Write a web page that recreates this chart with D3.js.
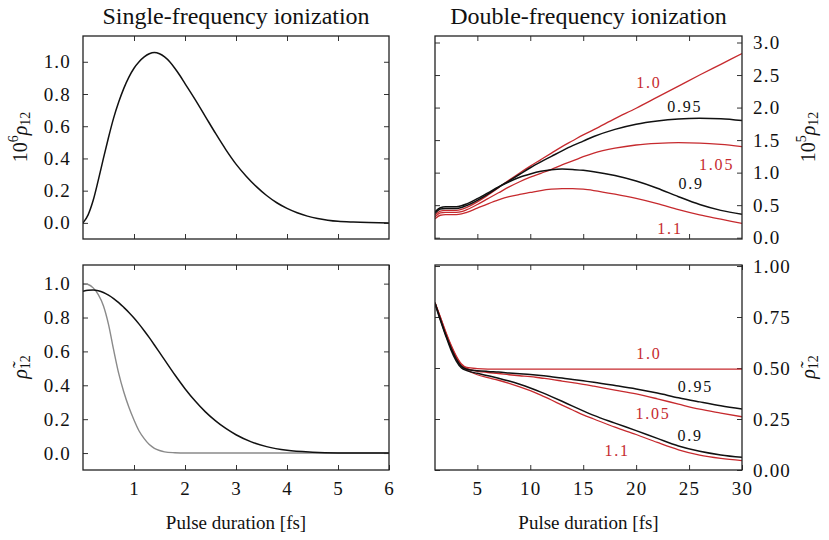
<!DOCTYPE html>
<html><head><meta charset="utf-8">
<script src="https://cdn.jsdelivr.net/npm/d3@7"></script>
<style>
body{margin:0;background:#fff}
svg{display:block}
svg text{font-family:"Liberation Serif","DejaVu Serif","Times New Roman",serif !important;fill:#111}
</style>
</head><body>
<svg id="c" width="829" height="540"></svg>
<script>
// ---------------- data ----------------
// Single-frequency: 10^6 rho12 vs pulse duration
const singleT   = [0,0.1,0.2,0.3,0.4,0.5,0.6,0.7,0.8,0.9,1.0,1.1,1.2,1.3,1.4,1.5,1.6,1.7,1.8,1.9,2.0,2.2,2.4,2.6,2.8,3.0,3.2,3.4,3.6,3.8,4.0,4.2,4.4,4.6,4.8,5.0,5.3,5.6,6.0];
const singleRho = [0,0.05,0.14,0.265,0.4,0.53,0.65,0.75,0.835,0.905,0.96,1.0,1.03,1.05,1.058,1.05,1.03,1.0,0.96,0.915,0.865,0.765,0.66,0.555,0.455,0.365,0.29,0.225,0.17,0.125,0.09,0.063,0.042,0.027,0.017,0.01,0.005,0.002,0.0];

// Single-frequency: normalized rho12 (black and gray curves)
const ratioT     = [0,0.1,0.2,0.3,0.4,0.5,0.6,0.7,0.8,0.9,1.0,1.1,1.2,1.3,1.4,1.5,1.6,1.8,2.0,2.2,2.4,2.6,2.8,3.0,3.3,3.6,4.0,4.5,5.0,6.0];
const ratioBlack = [0.955,0.961,0.962,0.958,0.948,0.932,0.912,0.888,0.86,0.83,0.797,0.761,0.722,0.681,0.638,0.594,0.55,0.462,0.38,0.307,0.243,0.19,0.145,0.108,0.066,0.038,0.016,0.005,0.001,0.0];
const ratioGray  = [1.0,0.995,0.975,0.935,0.87,0.76,0.61,0.47,0.36,0.27,0.195,0.13,0.085,0.05,0.028,0.015,0.007,0.002,0.0,0,0,0,0,0,0,0,0,0,0,0];

// Double-frequency: pulse durations and the five frequency ratios
const doubleT = [1,1.5,2,2.5,3,3.5,4,5,6,7,8,9,10,11,12,13,14,15,16,18,20,22,24,26,28,30];
const freqNames = ["0.9","0.95","1.0","1.05","1.1"];
// 10^5 rho12
const rho_090 = [0.40,0.46,0.475,0.475,0.475,0.49,0.52,0.60,0.69,0.78,0.86,0.93,0.98,1.02,1.045,1.055,1.05,1.035,1.015,0.955,0.87,0.76,0.63,0.51,0.42,0.36];
const rho_095 = [0.375,0.44,0.45,0.45,0.45,0.465,0.495,0.575,0.67,0.775,0.875,0.975,1.075,1.165,1.25,1.335,1.415,1.485,1.555,1.665,1.745,1.795,1.825,1.835,1.83,1.80];
const rho_100 = [0.35,0.41,0.42,0.42,0.42,0.435,0.465,0.55,0.655,0.77,0.885,0.995,1.10,1.20,1.30,1.40,1.49,1.58,1.66,1.83,1.99,2.16,2.33,2.50,2.665,2.83];
const rho_105 = [0.32,0.38,0.39,0.39,0.39,0.40,0.43,0.51,0.60,0.69,0.78,0.86,0.93,0.99,1.05,1.12,1.18,1.245,1.30,1.375,1.425,1.45,1.46,1.455,1.435,1.40];
const rho_110 = [0.29,0.345,0.355,0.355,0.355,0.365,0.39,0.455,0.52,0.58,0.63,0.665,0.695,0.725,0.745,0.755,0.755,0.745,0.725,0.67,0.605,0.525,0.43,0.35,0.285,0.22];
// normalized rho12
const nrm_090 = [0.815,0.735,0.66,0.59,0.535,0.50,0.487,0.474,0.462,0.45,0.436,0.42,0.402,0.382,0.36,0.337,0.313,0.29,0.268,0.23,0.193,0.155,0.118,0.092,0.074,0.062];
const nrm_095 = [0.82,0.74,0.665,0.60,0.545,0.508,0.494,0.487,0.483,0.48,0.476,0.472,0.468,0.463,0.457,0.451,0.444,0.437,0.43,0.414,0.397,0.377,0.354,0.334,0.315,0.299];
const nrm_100 = [0.82,0.75,0.68,0.615,0.56,0.52,0.503,0.497,0.495,0.495,0.495,0.495,0.495,0.495,0.495,0.495,0.495,0.495,0.495,0.495,0.495,0.495,0.495,0.495,0.495,0.495];
const nrm_105 = [0.82,0.75,0.675,0.61,0.555,0.515,0.498,0.484,0.478,0.473,0.467,0.462,0.458,0.451,0.444,0.436,0.428,0.42,0.411,0.392,0.373,0.349,0.323,0.298,0.279,0.261];
const nrm_110 = [0.82,0.745,0.67,0.605,0.55,0.508,0.49,0.467,0.453,0.44,0.425,0.408,0.389,0.367,0.343,0.318,0.294,0.27,0.25,0.21,0.174,0.135,0.099,0.073,0.057,0.046];

// curve label anchors (data coordinates) for each ratio
const topLabelT = [25.2,24.6,21.2,27.6,23.2];
const topLabelV = [0.83,2.01,2.39,1.13,0.14];
const botLabelT = [25.1,25.6,21.2,21.6,18.2];
const botLabelV = [0.169,0.409,0.571,0.279,0.098];

// ticks
const leftXTicks  = [1,2,3,4,5,6];
const rightXTicks = [5,10,15,20,25,30];
const leftYTicks  = [0,0.2,0.4,0.6,0.8,1.0];
const trYTicks    = [0,0.5,1.0,1.5,2.0,2.5,3.0];
const brYTicks    = [0,0.25,0.5,0.75,1.0];

// ---------------- drawing ----------------
const FONT = '"Liberation Serif","DejaVu Serif","Times New Roman",serif';
const svg = d3.select("#c").attr("font-family", FONT);
const RED = "#c62a2e", BLACK = "#111", GRAY = "#8a8a8a";
const seriesColor = [BLACK, BLACK, RED, RED, RED];

function makePanel(box, xdom, ydom, xticks, yticks, o) {
  const x = d3.scaleLinear().domain(xdom).range([box.x0, box.x1]);
  const y = d3.scaleLinear().domain(ydom).range([box.y1, box.y0]);
  const g = svg.append("g");
  const tickStyle = sel => {
    sel.attr("font-family", FONT);
    sel.select(".domain").remove();
    sel.selectAll(".tick line").attr("stroke", "#333").attr("stroke-width", 1);
    sel.selectAll(".tick text").attr("font-size", 19).attr("letter-spacing", 1.2).attr("fill", "#111");
  };
  const xb = d3.axisBottom(x).tickValues(xticks).tickSizeInner(-5).tickSizeOuter(0).tickPadding(12)
    .tickFormat(o.xlabels ? d3.format("d") : () => "");
  g.append("g").attr("transform", `translate(0,${box.y1})`).call(xb).call(tickStyle);
  g.append("g").attr("transform", `translate(0,${box.y0})`)
    .call(d3.axisTop(x).tickValues(xticks).tickSizeInner(-5).tickSizeOuter(0).tickFormat(() => "")).call(tickStyle);
  const fmt = o.yfmt;
  g.append("g").attr("transform", `translate(${box.x0},0)`)
    .call(d3.axisLeft(y).tickValues(yticks).tickSizeInner(-5).tickSizeOuter(0).tickPadding(12)
      .tickFormat(o.ySide === "left" ? fmt : () => "")).call(tickStyle);
  g.append("g").attr("transform", `translate(${box.x1},0)`)
    .call(d3.axisRight(y).tickValues(yticks).tickSizeInner(-5).tickSizeOuter(0).tickPadding(11)
      .tickFormat(o.ySide === "right" ? fmt : () => "")).call(tickStyle);
  const id = "clip" + Math.round(box.x0) + "_" + Math.round(box.y0);
  svg.append("clipPath").attr("id", id).append("rect")
    .attr("x", box.x0).attr("y", box.y0).attr("width", box.x1 - box.x0).attr("height", box.y1 - box.y0);
  const plot = g.append("g").attr("clip-path", `url(#${id})`);
  g.append("rect").attr("x", box.x0).attr("y", box.y0).attr("width", box.x1 - box.x0)
    .attr("height", box.y1 - box.y0).attr("fill", "none").attr("stroke", "#222").attr("stroke-width", 1.3);
  return {x, y, g, plot};
}

function drawLine(p, xs, ys, color, w) {
  const line = d3.line().x((d, i) => p.x(xs[i])).y(d => p.y(d)).curve(d3.curveMonotoneX);
  p.plot.append("path").datum(ys).attr("d", line).attr("fill", "none")
    .attr("stroke", color).attr("stroke-width", w).attr("stroke-linejoin", "round");
}

const L = {x0: 83, x1: 389}, R = {x0: 435, x1: 742};
const T = {y0: 36, y1: 239}, B = {y0: 265, y1: 470};

const f1 = d3.format(".1f"), f2 = d3.format(".2f");

// top-left
const tl = makePanel({...L, ...T}, [0, 6], [-0.1, 1.16], leftXTicks.slice(0, 5), leftYTicks, {ySide: "left", yfmt: f1});
drawLine(tl, singleT, singleRho, BLACK, 1.5);

// top-right
const tr = makePanel({...R, ...T}, [1, 30], [-0.02, 3.1], rightXTicks.slice(0, 5), trYTicks, {ySide: "right", yfmt: f1});
const topSeries = [rho_090, rho_095, rho_100, rho_105, rho_110];
[4, 3, 2, 1, 0].forEach(i => drawLine(tr, doubleT, topSeries[i], seriesColor[i], seriesColor[i] === RED ? 1.3 : 1.5));
freqNames.forEach((n, i) => {
  tr.g.append("text").attr("x", tr.x(topLabelT[i])).attr("y", tr.y(topLabelV[i]))
    .attr("text-anchor", "middle").attr("dominant-baseline", "central")
    .attr("font-size", 16).attr("letter-spacing", 1.8).style("fill", seriesColor[i]).text(n);
});

// bottom-left
const bl = makePanel({...L, ...B}, [0, 6], [-0.1, 1.11], leftXTicks, leftYTicks, {ySide: "left", yfmt: f1, xlabels: true});
drawLine(bl, ratioT, ratioGray, GRAY, 1.4);
drawLine(bl, ratioT, ratioBlack, BLACK, 1.5);

// bottom-right
const br = makePanel({...R, ...B}, [1, 30], [0, 1.005], rightXTicks, brYTicks, {ySide: "right", yfmt: f2, xlabels: true});
const botSeries = [nrm_090, nrm_095, nrm_100, nrm_105, nrm_110];
[4, 3, 2, 1, 0].forEach(i => drawLine(br, doubleT, botSeries[i], seriesColor[i], seriesColor[i] === RED ? 1.3 : 1.5));
freqNames.forEach((n, i) => {
  br.g.append("text").attr("x", br.x(botLabelT[i])).attr("y", br.y(botLabelV[i]))
    .attr("text-anchor", "middle").attr("dominant-baseline", "central")
    .attr("font-size", 16).attr("letter-spacing", 1.8).style("fill", seriesColor[i]).text(n);
});

// titles
svg.append("text").attr("x", (L.x0 + L.x1) / 2).attr("y", 24).attr("text-anchor", "middle")
  .attr("font-size", 24).text("Single-frequency ionization");
svg.append("text").attr("x", (R.x0 + R.x1) / 2).attr("y", 24).attr("text-anchor", "middle")
  .attr("font-size", 24).text("Double-frequency ionization");

// x labels
[L, R].forEach(b => svg.append("text").attr("x", (b.x0 + b.x1) / 2).attr("y", 529)
  .attr("text-anchor", "middle").attr("font-size", 19).text("Pulse duration [fs]"));

// y labels
function rhoLabel(cx, cy, power, tilde) {
  const t = svg.append("text").attr("transform", `translate(${cx},${cy}) rotate(-90)`)
    .attr("text-anchor", "middle").attr("dominant-baseline", "central").attr("font-size", 20);
  if (power) {
    t.append("tspan").text("10");
    t.append("tspan").attr("dy", -7).attr("font-size", 14).text(power);
    t.append("tspan").attr("dy", 7).attr("font-style", "italic").text("ρ");
  } else {
    t.append("tspan").attr("font-style", "italic").text(tilde ? "ρ\u0303" : "ρ");
  }
  t.append("tspan").attr("dy", 5).attr("font-size", 14).text("12");
}
rhoLabel(20, 137, "6", false);
rhoLabel(20, 367, null, true);
rhoLabel(808, 137, "5", false);
rhoLabel(808, 367, null, true);
</script>
</body></html>
